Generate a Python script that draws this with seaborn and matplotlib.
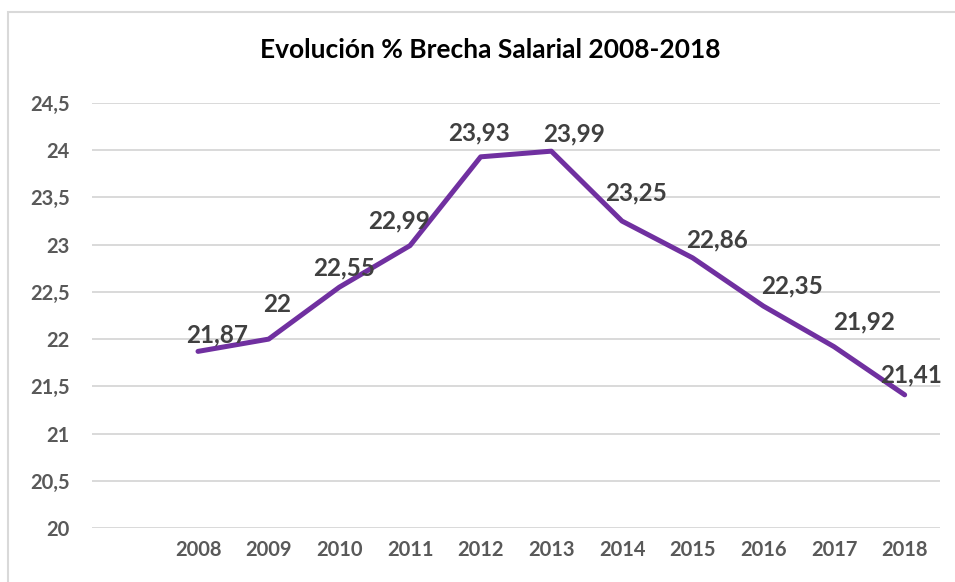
import pandas as pd
import seaborn as sns
import matplotlib.pyplot as plt
from matplotlib.patches import Rectangle

# data
years = ['2008', '2009', '2010', '2011', '2012', '2013', '2014', '2015', '2016', '2017', '2018']
brecha = [21.87, 22.00, 22.55, 22.99, 23.93, 23.99, 23.25, 22.86, 22.35, 21.92, 21.41]
etiquetas = ['21,87', '22', '22,55', '22,99', '23,93', '23,99', '23,25', '22,86', '22,35', '21,92', '21,41']
y_ticks = [20, 20.5, 21, 21.5, 22, 22.5, 23, 23.5, 24, 24.5]
y_ticklabels = ['20', '20,5', '21', '21,5', '22', '22,5', '23', '23,5', '24', '24,5']

# label offsets in pixels (Excel-like placement)
label_offsets = [(19, 16), (8, 35), (5, 19), (-11, 25), (-2, 24), (23, 17),
                 (14, 28), (24, 18), (29, 20), (30, 25), (6, 20)]

df = pd.DataFrame({'Año': years, 'Brecha': brecha})

sns.set_style('white')
plt.rcParams['font.family'] = ['Lato', 'DejaVu Sans']

grey = '#595959'
purple = '#7030A0'

fig = plt.figure(figsize=(9.55, 5.82), dpi=100)
ax = fig.add_axes([92 / 955, 1 - 528 / 582, (940 - 92) / 955, (528 - 103) / 582])

sns.lineplot(data=df, x='Año', y='Brecha', color=purple, linewidth=3.6, ax=ax, sort=False)

ax.set_xlim(-1.5, 10.5)
ax.set_ylim(20, 24.5)
ax.set_yticks(y_ticks)
ax.set_yticklabels(y_ticklabels)
ax.grid(axis='y', color='#d9d9d9', linewidth=1.4)
ax.set_axisbelow(True)
for s in ax.spines.values():
    s.set_visible(False)
ax.tick_params(axis='both', length=0, labelsize=14.5, labelcolor=grey)
ax.tick_params(axis='y', pad=16)
ax.tick_params(axis='x', pad=9)
for lbl in ax.get_xticklabels() + ax.get_yticklabels():
    lbl.set_fontweight('bold')
ax.set_xlabel('')
ax.set_ylabel('')

for i, (v, t) in enumerate(zip(brecha, etiquetas)):
    dx, dy = label_offsets[i]
    ax.annotate(t, (i, v), xytext=(dx, dy), textcoords='offset pixels',
                ha='center', va='center', fontsize=17.5, fontweight='bold', color='#404040')

fig.text(490 / 955, 1 - 50 / 582, 'Evolución % Brecha Salarial 2008-2018',
         ha='center', va='center', fontsize=19, fontweight='bold', color='black')

# chart area border (partially cropped)
fig.patches.append(Rectangle((8 / 955, -0.1), 1.2, 1 - 12 / 582 + 0.1, transform=fig.transFigure,
                             fill=False, edgecolor='#d9d9d9', linewidth=1.5))

plt.savefig('out.png', dpi=100)
